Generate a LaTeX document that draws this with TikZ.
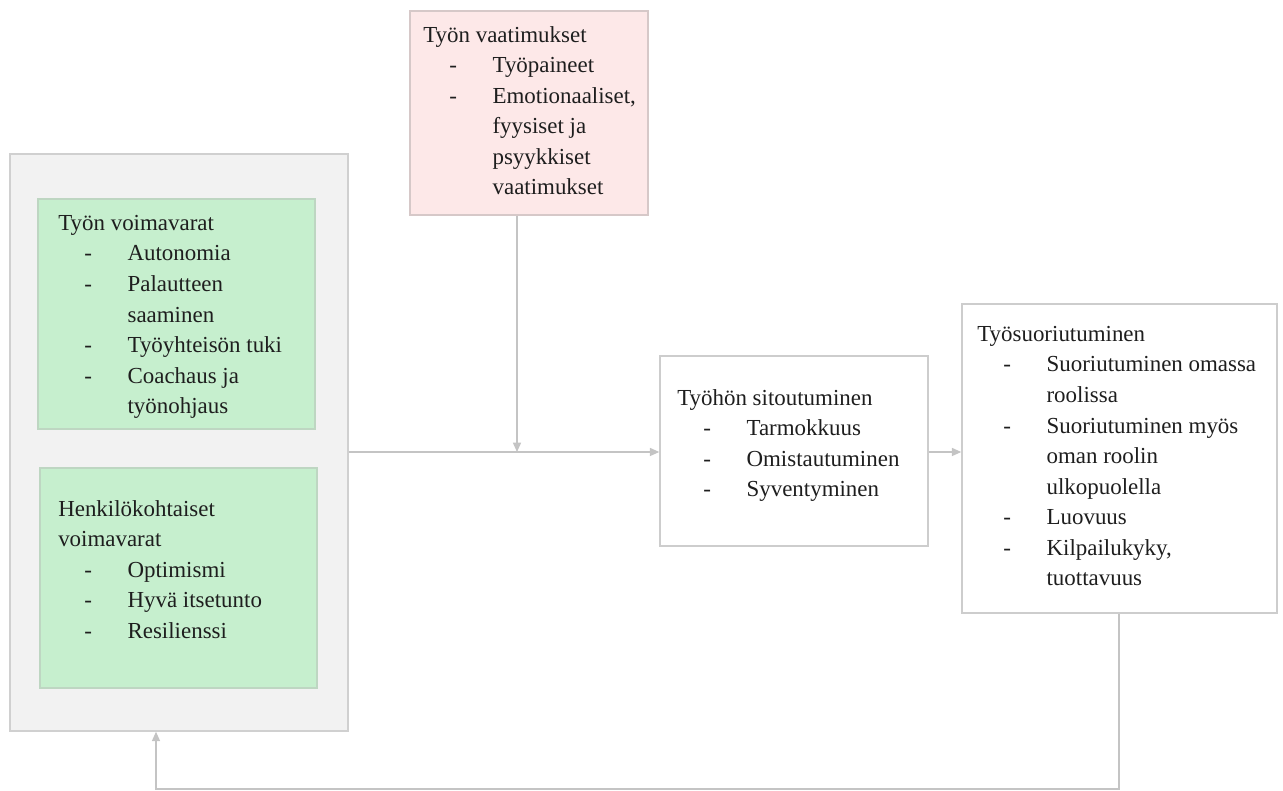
\documentclass[tikz,border=0pt]{standalone}
\usepackage{fontspec}
\setmainfont{Liberation Serif}
\usetikzlibrary{arrows.meta,fit}
\definecolor{outerfill}{RGB}{242,242,242}
\definecolor{outerline}{RGB}{208,208,208}
\definecolor{greenfill}{RGB}{198,239,206}
\definecolor{greenline}{RGB}{190,214,194}
\definecolor{redfill}{RGB}{253,232,232}
\definecolor{redline}{RGB}{214,200,200}
\definecolor{boxline}{RGB}{205,205,205}
\definecolor{arrowgray}{RGB}{196,196,196}
\definecolor{txtcol}{RGB}{30,30,30}
\newcommand\dashitem{\hspace*{19.5pt}\makebox[32.5pt][l]{-}}
\newcommand\contline{\hspace*{52pt}}
\tikzset{
  panel/.style={draw=boxline, line width=1.1pt, inner sep=0pt, fill=white},
  outerpanel/.style={panel, draw=outerline, fill=outerfill},
  greenpanel/.style={panel, draw=greenline, fill=greenfill},
  redpanel/.style={panel, draw=redline, fill=redfill},
  txt/.style={anchor=north west, inner sep=0pt, align=left, text=txtcol,
    font=\fontsize{17.2}{22.9}\selectfont},
  arr/.style={draw=arrowgray, line width=1.1pt,
    -{Triangle[length=7pt,width=6pt,fill=arrowgray]}},
}
\begin{document}
\begin{tikzpicture}[x=0.75pt,y=-0.75pt]
\useasboundingbox (0,0) rectangle (1283,791);
% boxes
\node[outerpanel, fit={(10,154) (348,731)}] (outer) {};
\node[greenpanel, fit={(38,199) (315,429)}] (jobres) {};
\node[greenpanel, fit={(40,468) (317,688)}] (persres) {};
\node[redpanel, fit={(410,11) (648,215)}] (demands) {};
\node[panel, fit={(660,356) (928,546)}] (engage) {};
\node[panel, fit={(962,304) (1277,613)}] (perform) {};
% texts
\node[txt] (tjobres) at (58,215) {Työn voimavarat\\
\dashitem Autonomia\\
\dashitem Palautteen\\
\contline saaminen\\
\dashitem Työyhteisön tuki\\
\dashitem Coachaus ja\\
\contline työnohjaus};
\node[txt] (tpersres) at (58,500) {Henkilökohtaiset\\
voimavarat\\
\dashitem Optimismi\\
\dashitem Hyvä itsetunto\\
\dashitem Resilienssi};
\node[txt] (tdemands) at (423,26) {Työn vaatimukset\\
\dashitem Työpaineet\\
\dashitem Emotionaaliset,\\
\contline fyysiset ja\\
\contline psyykkiset\\
\contline vaatimukset};
\node[txt] (tengage) at (677,389) {Työhön sitoutuminen\\
\dashitem Tarmokkuus\\
\dashitem Omistautuminen\\
\dashitem Syventyminen};
\node[txt] (tperform) at (977,326) {Työsuoriutuminen\\
\dashitem Suoriutuminen omassa\\
\contline roolissa\\
\dashitem Suoriutuminen myös\\
\contline oman roolin\\
\contline ulkopuolella\\
\dashitem Luovuus\\
\dashitem Kilpailukyky,\\
\contline tuottavuus};
% connectors
\coordinate (join) at (517,452);
\coordinate (fbright) at (1119,789);
\coordinate (fbleft) at (156,789);
\draw[arr] (outer.east |- join) -- (engage.west |- join);
\draw[arr] (demands.south -| join) -- (join);
\draw[arr] (engage.east |- join) -- (perform.west |- join);
\draw[arr] (perform.south -| fbright) -- (fbright) -- (fbleft) -- (outer.south -| fbleft);
\end{tikzpicture}
\end{document}
